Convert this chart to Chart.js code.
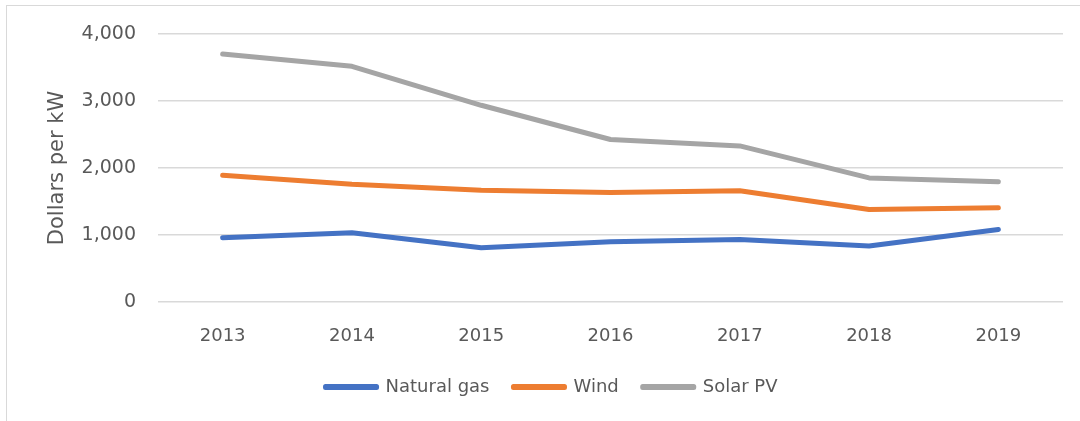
<!DOCTYPE html>
<html>
<head>
<meta charset="utf-8">
<script src="https://cdn.jsdelivr.net/npm/chart.js@4"></script>
<style>
  body { margin: 0; background: #fff; }
  #frame {
    position: absolute; left: 6px; top: 5px;
    width: 1200px; height: 500px;
    border: 1.5px solid #d9d9d9;
  }
  #wrap { position: absolute; left: 0; top: 0; width: 1080px; height: 421px; }
</style>
</head>
<body>
<div id="frame"></div>
<div id="wrap"><canvas id="lineChart"></canvas></div>
<script>
const years = ["2013", "2014", "2015", "2016", "2017", "2018", "2019"];
const naturalGas = [958, 1033, 809, 900, 934, 835, 1083];
const wind = [1893, 1759, 1669, 1635, 1659, 1382, 1406];
const solarPV = [3700, 3517, 2936, 2425, 2330, 1852, 1793];
const yTicks = [0, 1000, 2000, 3000, 4000];

const textColor = "#595959";
const fontFamily = "'DejaVu Sans', sans-serif";

function series(label, data, color) {
    return {
        label: label,
        data: data,
        borderColor: color,
        backgroundColor: color,
        borderWidth: 5,
        borderCapStyle: "round",
        borderJoinStyle: "round",
        pointRadius: 0,
        tension: 0,
        fill: false
    };
}

new Chart(document.getElementById("lineChart"), {
    type: "line",
    data: {
        labels: years,
        datasets: [
            series("Natural gas", naturalGas, "#4472C4"),
            series("Wind", wind, "#ED7D31"),
            series("Solar PV", solarPV, "#A5A5A5")
        ]
    },
    options: {
        responsive: true,
        maintainAspectRatio: false,
        animation: false,
        layout: {
            padding: { left: 40, right: 17, top: 34, bottom: 15 }
        },
        plugins: {
            tooltip: { enabled: false },
            legend: {
                position: "bottom",
                labels: {
                    color: textColor,
                    font: { family: fontFamily, size: 18 },
                    boxWidth: 51,
                    boxHeight: 1,
                    padding: 24
                }
            }
        },
        scales: {
            x: {
                offset: true,
                grid: { display: false },
                border: { display: false },
                ticks: {
                    color: textColor,
                    font: { family: fontFamily, size: 18 },
                    padding: 16,
                    maxRotation: 0
                },
                afterFit: scale => { scale.height = 52; }
            },
            y: {
                min: 0,
                max: 4000,
                afterBuildTicks: scale => {
                    scale.ticks = yTicks.map(v => ({ value: v }));
                },
                grid: {
                    color: "#d9d9d9",
                    lineWidth: 1.5,
                    drawTicks: false
                },
                border: { display: false },
                ticks: {
                    color: textColor,
                    font: { family: fontFamily, size: 19 },
                    padding: 22,
                    callback: v => v.toLocaleString("en-US")
                },
                title: {
                    display: true,
                    text: "Dollars per kW",
                    color: textColor,
                    font: { family: fontFamily, size: 21 },
                    padding: { top: 5, bottom: 0 }
                },
                afterFit: scale => { scale.width = 118; }
            }
        }
    }
});
</script>
</body>
</html>
